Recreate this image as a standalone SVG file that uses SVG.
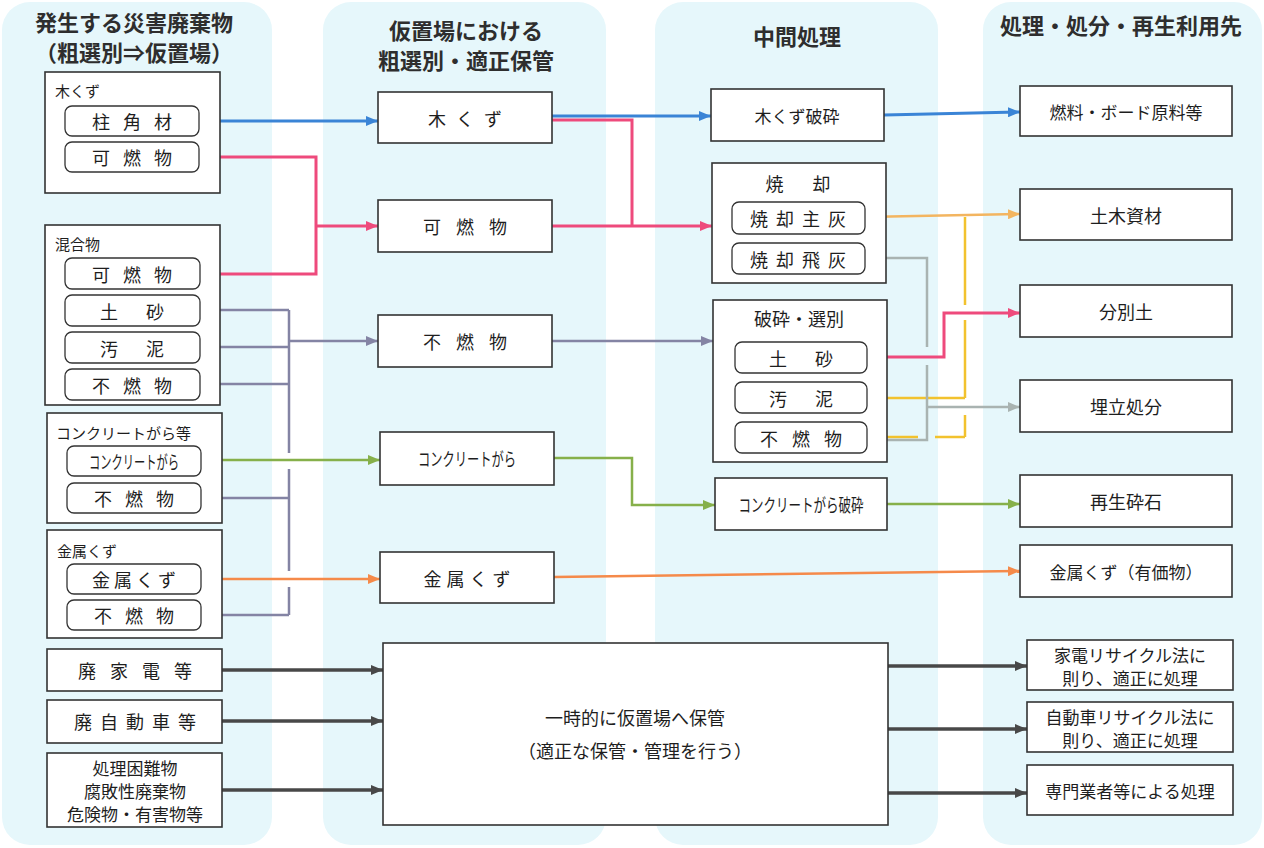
<svg xmlns="http://www.w3.org/2000/svg" width="1264" height="848" viewBox="0 0 1264 848">
<style>
text{font-family:"Noto Sans CJK JP","Noto Sans",sans-serif;fill:#1e1e1e;dominant-baseline:central}
.title{font-size:22px;font-weight:700;fill:#2e2e2e;text-anchor:middle}
.panel{fill:#e6f7fb}
.box{fill:#fff;stroke:#333;stroke-width:1.6}
.sub{fill:#fff;stroke:#333;stroke-width:1.3}
.lbl{font-size:15px}
.m{text-anchor:middle;font-size:18px}
.s{text-anchor:middle;font-size:17px}
.c{fill:none;stroke-linejoin:miter}
.blue{stroke:#3a84d6;stroke-width:3}
.pink{stroke:#ee4a7c;stroke-width:3}
.purple{stroke:#8484a4;stroke-width:2.5}
.green{stroke:#86b04a;stroke-width:2.5}
.orange{stroke:#f58a4a;stroke-width:2.5}
.lorange{stroke:#f3b560;stroke-width:2.5}
.yellow{stroke:#f2c22e;stroke-width:2.5}
.gray{stroke:#a9b3b1;stroke-width:2.5}
.dark{stroke:#484848;stroke-width:3.5}
</style>
<defs>
<marker id="aBlue" markerUnits="userSpaceOnUse" markerWidth="12" markerHeight="10" refX="12" refY="5" orient="auto"><path d="M0,0 L12,5 L0,10 Z" fill="#3a84d6"/></marker>
<marker id="aPink" markerUnits="userSpaceOnUse" markerWidth="12" markerHeight="10" refX="12" refY="5" orient="auto"><path d="M0,0 L12,5 L0,10 Z" fill="#ee4a7c"/></marker>
<marker id="aPurple" markerUnits="userSpaceOnUse" markerWidth="12" markerHeight="10" refX="12" refY="5" orient="auto"><path d="M0,0 L12,5 L0,10 Z" fill="#8484a4"/></marker>
<marker id="aGreen" markerUnits="userSpaceOnUse" markerWidth="12" markerHeight="10" refX="12" refY="5" orient="auto"><path d="M0,0 L12,5 L0,10 Z" fill="#86b04a"/></marker>
<marker id="aOrange" markerUnits="userSpaceOnUse" markerWidth="12" markerHeight="10" refX="12" refY="5" orient="auto"><path d="M0,0 L12,5 L0,10 Z" fill="#f58a4a"/></marker>
<marker id="aLOrange" markerUnits="userSpaceOnUse" markerWidth="12" markerHeight="10" refX="12" refY="5" orient="auto"><path d="M0,0 L12,5 L0,10 Z" fill="#f3b560"/></marker>
<marker id="aGray" markerUnits="userSpaceOnUse" markerWidth="12" markerHeight="10" refX="12" refY="5" orient="auto"><path d="M0,0 L12,5 L0,10 Z" fill="#a9b3b1"/></marker>
<marker id="aDark" markerUnits="userSpaceOnUse" markerWidth="12" markerHeight="10" refX="12" refY="5" orient="auto"><path d="M0,0 L12,5 L0,10 Z" fill="#484848"/></marker>
</defs>
<rect width="1264" height="848" fill="#fff"/>
<g id="panels">
<rect class="panel" x="2" y="2" width="270" height="843" rx="28"/>
<rect class="panel" x="323" y="2" width="283" height="843" rx="28"/>
<rect class="panel" x="655" y="2" width="283" height="843" rx="28"/>
<rect class="panel" x="983" y="2" width="279" height="843" rx="28"/>
</g>
<g id="titles">
<text class="title" x="134" y="21">発生する災害廃棄物</text>
<text class="title" x="134" y="51">（粗選別⇒仮置場）</text>
<text class="title" x="466" y="29">仮置場における</text>
<text class="title" x="466" y="59">粗選別・適正保管</text>
<text class="title" x="797" y="35">中間処理</text>
<text class="title" x="1121" y="24">処理・処分・再生利用先</text>
</g>
<g id="connectors">
<path class="c blue" d="M199,121 H378" marker-end="url(#aBlue)"/>
<path class="c pink" d="M199,157 H316 V274 H200"/>
<path class="c pink" d="M316,226 H378" marker-end="url(#aPink)"/>
<path class="c purple" d="M200,310 H289 M200,347 H289 M200,384 H289 M200,498 H289 M200,615 H289 M289,310 V453 M289,469 V571 M289,587 V615"/>
<path class="c purple" d="M289,341 H378" marker-end="url(#aPurple)"/>
<path class="c green" d="M201,460 H380" marker-end="url(#aGreen)"/>
<path class="c orange" d="M201,579 H380" marker-end="url(#aOrange)"/>
<path class="c blue" d="M552,116 H711" marker-end="url(#aBlue)"/>
<path class="c pink" d="M552,120 H632 V226"/>
<path class="c pink" d="M552,226 H712" marker-end="url(#aPink)"/>
<path class="c purple" d="M552,341 H713" marker-end="url(#aPurple)"/>
<path class="c green" d="M554,458 H632 V505 H715" marker-end="url(#aGreen)"/>
<path class="c orange" d="M554,577 L1020,571" marker-end="url(#aOrange)"/>
<path class="c blue" d="M884,115 L1020,112" marker-end="url(#aBlue)"/>
<path class="c lorange" d="M865,217 L1020,214" marker-end="url(#aLOrange)"/>
<path class="c yellow" d="M965,217 V305 M965,320 V398 M965,415 V437 M867,398 H965 M867,437 H918 M935,437 H965"/>
<path class="c gray" d="M865,258 H927 V347 M927,365 V440 H867"/>
<path class="c gray" d="M927,407 H1020" marker-end="url(#aGray)"/>
<path class="c pink" d="M867,357 H944 V313 H1020" marker-end="url(#aPink)"/>
<path class="c green" d="M887,504 H1020" marker-end="url(#aGreen)"/>
<path class="c dark" d="M222,670 H383" marker-end="url(#aDark)"/>
<path class="c dark" d="M222,721 H383" marker-end="url(#aDark)"/>
<path class="c dark" d="M222,790 H383" marker-end="url(#aDark)"/>
<path class="c dark" d="M888,666 H1027" marker-end="url(#aDark)"/>
<path class="c dark" d="M888,729 H1027" marker-end="url(#aDark)"/>
<path class="c dark" d="M888,793 H1027" marker-end="url(#aDark)"/>
</g>
<g id="n-mokuzu-src">
<rect class="box" x="45" y="72" width="175" height="121"/>
<text class="lbl" x="55" y="90">木くず</text>
<rect class="sub" x="65" y="106" width="134" height="30" rx="7"/>
<text class="m" x="132" y="121" word-spacing="9">柱 角 材</text>
<rect class="sub" x="65" y="142" width="134" height="30" rx="7"/>
<text class="m" x="132" y="157" word-spacing="9">可 燃 物</text>
</g>
<g id="n-kongo-src">
<rect class="box" x="45" y="225" width="175" height="180"/>
<text class="lbl" x="55" y="243">混合物</text>
<rect class="sub" x="65" y="258" width="135" height="31" rx="7"/>
<text class="m" x="132" y="274" word-spacing="9">可 燃 物</text>
<rect class="sub" x="65" y="295" width="135" height="31" rx="7"/>
<text class="m" x="132" y="311" word-spacing="24">土 砂</text>
<rect class="sub" x="65" y="332" width="135" height="31" rx="7"/>
<text class="m" x="132" y="348" word-spacing="24">汚 泥</text>
<rect class="sub" x="65" y="369" width="135" height="31" rx="7"/>
<text class="m" x="132" y="385" word-spacing="9">不 燃 物</text>
</g>
<g id="n-con-src">
<rect class="box" x="47" y="413" width="175" height="110"/>
<text class="lbl" x="56" y="432">コンクリートがら等</text>
<rect class="sub" x="67" y="446" width="134" height="30" rx="7"/>
<text class="m" x="134" y="461" font-size="16" textLength="90" lengthAdjust="spacingAndGlyphs">コンクリートがら</text>
<rect class="sub" x="67" y="483" width="134" height="30" rx="7"/>
<text class="m" x="134" y="498" word-spacing="9">不 燃 物</text>
</g>
<g id="n-kinzoku-src">
<rect class="box" x="47" y="530" width="175" height="108"/>
<text class="lbl" x="57" y="550">金属くず</text>
<rect class="sub" x="67" y="564" width="134" height="30" rx="7"/>
<text class="m" x="134" y="579">金 属 く ず</text>
<rect class="sub" x="67" y="600" width="134" height="30" rx="7"/>
<text class="m" x="134" y="615" word-spacing="9">不 燃 物</text>
</g>
<g id="n-kaden">
<rect class="box" x="47" y="649" width="175" height="42"/>
<text class="m" x="135" y="670" word-spacing="10">廃 家 電 等</text>
</g>
<g id="n-jidosha">
<rect class="box" x="47" y="700" width="175" height="43"/>
<text class="m" x="135" y="721" word-spacing="4">廃 自 動 車 等</text>
</g>
<g id="n-konnan">
<rect class="box" x="47" y="753" width="175" height="74"/>
<text class="s" x="135" y="767" font-size="15">処理困難物</text>
<text class="s" x="135" y="790" font-size="15">腐敗性廃棄物</text>
<text class="s" x="135" y="813" font-size="15">危険物・有害物等</text>
</g>
<g id="n-mokuzu-kari">
<rect class="box" x="378" y="92" width="174" height="51"/>
<text class="m" x="465" y="118" word-spacing="6">木 く ず</text>
</g>
<g id="n-kanen-kari">
<rect class="box" x="378" y="200" width="174" height="52"/>
<text class="m" x="465" y="226" word-spacing="11">可 燃 物</text>
</g>
<g id="n-funen-kari">
<rect class="box" x="378" y="315" width="174" height="52"/>
<text class="m" x="465" y="341" word-spacing="11">不 燃 物</text>
</g>
<g id="n-con-kari">
<rect class="box" x="380" y="432" width="174" height="53"/>
<text class="m" x="467" y="458" font-size="16" textLength="98" lengthAdjust="spacingAndGlyphs">コンクリートがら</text>
</g>
<g id="n-kinzoku-kari">
<rect class="box" x="380" y="552" width="174" height="51"/>
<text class="m" x="467" y="578" word-spacing="1">金 属 く ず</text>
</g>
<g id="n-ichiji">
<rect class="box" x="383" y="643" width="505" height="182"/>
<text class="m" x="635" y="717">一時的に仮置場へ保管</text>
<text class="m" x="635" y="750">（適正な保管・管理を行う）</text>
</g>
<g id="n-mokuzu-hasai">
<rect class="box" x="711" y="89" width="173" height="52"/>
<text class="s" x="797" y="115">木くず破砕</text>
</g>
<g id="n-shokyaku">
<rect class="box" x="712" y="163" width="174" height="120"/>
<text class="m" x="798" y="183" word-spacing="25">焼 却</text>
<rect class="sub" x="732" y="202" width="133" height="32" rx="7"/>
<text class="m" x="798" y="218" word-spacing="4">焼 却 主 灰</text>
<rect class="sub" x="732" y="243" width="133" height="31" rx="7"/>
<text class="m" x="798" y="259" word-spacing="4">焼 却 飛 灰</text>
</g>
<g id="n-hasai-senbetsu">
<rect class="box" x="713" y="300" width="174" height="162"/>
<text class="m" x="799" y="318">破砕・選別</text>
<rect class="sub" x="735" y="342" width="132" height="31" rx="7"/>
<text class="m" x="801" y="358" word-spacing="24">土 砂</text>
<rect class="sub" x="735" y="382" width="132" height="31" rx="7"/>
<text class="m" x="801" y="398" word-spacing="24">汚 泥</text>
<rect class="sub" x="735" y="422" width="132" height="31" rx="7"/>
<text class="m" x="801" y="438" word-spacing="10">不 燃 物</text>
</g>
<g id="n-con-hasai">
<rect class="box" x="715" y="478" width="172" height="52"/>
<text class="m" x="801" y="504" font-size="16" textLength="125" lengthAdjust="spacingAndGlyphs">コンクリートがら破砕</text>
</g>
<g id="n-nenryo">
<rect class="box" x="1020" y="86" width="212" height="50"/>
<text class="s" x="1126" y="111">燃料・ボード原料等</text>
</g>
<g id="n-doboku">
<rect class="box" x="1020" y="189" width="212" height="51"/>
<text class="m" x="1126" y="215">土木資材</text>
</g>
<g id="n-bunbetsudo">
<rect class="box" x="1020" y="285" width="212" height="52"/>
<text class="m" x="1126" y="311">分別土</text>
</g>
<g id="n-umetate">
<rect class="box" x="1020" y="380" width="212" height="52"/>
<text class="m" x="1126" y="406">埋立処分</text>
</g>
<g id="n-saisei">
<rect class="box" x="1020" y="475" width="212" height="52"/>
<text class="m" x="1126" y="501">再生砕石</text>
</g>
<g id="n-kinzoku-yuka">
<rect class="box" x="1020" y="545" width="212" height="52"/>
<text class="s" x="1126" y="571">金属くず（有価物）</text>
</g>
<g id="n-kaden-ho">
<rect class="box" x="1027" y="640" width="206" height="50"/>
<text class="s" x="1130" y="654">家電リサイクル法に</text>
<text class="s" x="1130" y="677">則り、適正に処理</text>
</g>
<g id="n-jidosha-ho">
<rect class="box" x="1027" y="702" width="206" height="50"/>
<text class="s" x="1130" y="716">自動車リサイクル法に</text>
<text class="s" x="1130" y="739">則り、適正に処理</text>
</g>
<g id="n-senmon">
<rect class="box" x="1027" y="765" width="206" height="50"/>
<text class="s" x="1130" y="790">専門業者等による処理</text>
</g>
</svg>
